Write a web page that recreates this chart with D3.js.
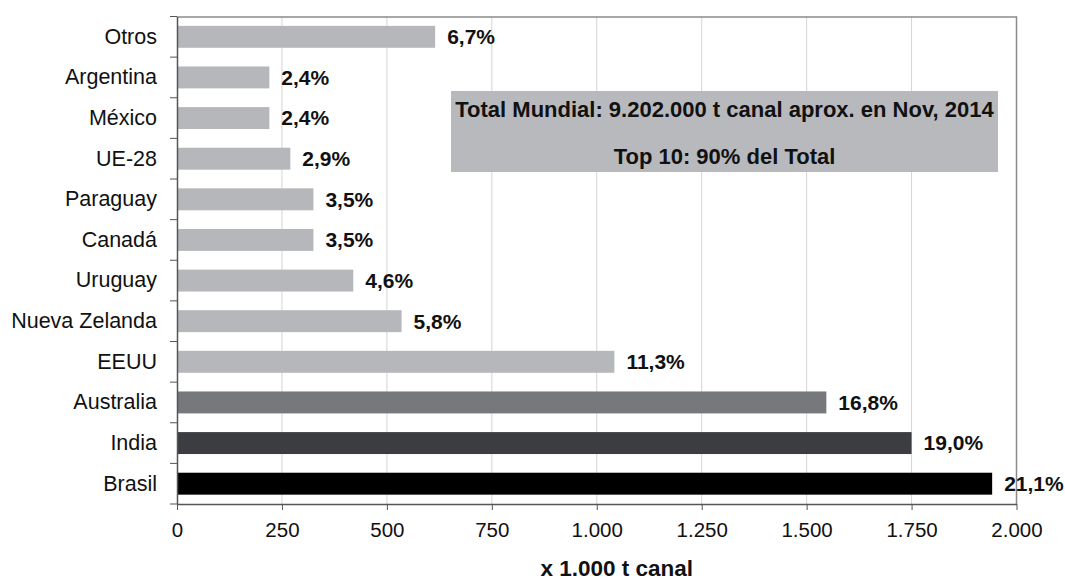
<!DOCTYPE html>
<head>
  <meta charset="utf-8">
  <style>
    body { margin: 0; background: #fff; }
    text { font-family: "Liberation Sans", Arial, sans-serif; fill: #111; }
    .bar { fill: #b6b7ba; }
    .pct { font-weight: bold; font-size: 21px; }
    .grid line { stroke: #d4d4d4; }
  </style>
  <script src="https://d3js.org/d3.v7.min.js"></script>
</head>

<body>
  <div id="content"></div>
  <script>
  // data (x 1.000 t canal, share of world total)
  var categories = ["Otros", "Argentina", "México", "UE-28", "Paraguay", "Canadá",
                    "Uruguay", "Nueva Zelanda", "EEUU", "Australia", "India", "Brasil"];
  var values = [615, 220, 220, 270, 325, 325, 420, 535, 1042, 1547, 1750, 1942];
  var shares = [6.7, 2.4, 2.4, 2.9, 3.5, 3.5, 4.6, 5.8, 11.3, 16.8, 19.0, 21.1];
  var xTicks = [0, 250, 500, 750, 1000, 1250, 1500, 1750, 2000];
  var barColors = {"Australia": "#77787c", "India": "#3c3d41", "Brasil": "#000000"};
  var noteLines = ["Total Mundial: 9.202.000 t canal aprox. en Nov, 2014", "Top 10: 90% del Total"];

  var margin = {top: 16.5, right: 48.5, bottom: 75, left: 177},
      width = 1065 - margin.left - margin.right,
      height = 579 - margin.top - margin.bottom;

  var data = categories.map(function(c, i) {
    return {cat: c, value: values[i], share: shares[i]};
  });

  var x = d3.scaleLinear().domain([0, 2000]).range([0, width]);
  var y = d3.scaleBand().domain(categories).range([0, height])
            .paddingInner(0.46).paddingOuter(0.23);

  var svg = d3.select("#content").append("svg")
      .attr("width", 1065)
      .attr("height", 579)
    .append("g")
      .attr("transform", "translate(" + margin.left + "," + margin.top + ")");

  // vertical grid
  svg.append("g")
      .attr("class", "grid")
    .selectAll("line")
    .data(xTicks.slice(1))
    .enter().append("line")
      .attr("x1", function(d) { return x(d); })
      .attr("x2", function(d) { return x(d); })
      .attr("y1", 0)
      .attr("y2", height);

  // frame top / right
  svg.append("path")
      .attr("d", "M0,0.5H" + width + "V" + height)
      .attr("fill", "none")
      .attr("stroke", "#8a8a8a")
      .attr("stroke-width", 1.5);

  // note box
  var box = svg.append("g");
  box.append("rect")
      .attr("x", 274).attr("y", 74.5)
      .attr("width", 547).attr("height", 81)
      .attr("fill", "#b8b9bc");
  box.selectAll("text")
    .data(noteLines)
    .enter().append("text")
      .attr("x", 274 + 547 / 2)
      .attr("y", function(d, i) { return 93 + i * 47; })
      .attr("dy", "0.35em")
      .attr("text-anchor", "middle")
      .style("font-weight", "bold")
      .style("font-size", "22px")
      .text(function(d) { return d; });

  // bars
  svg.selectAll(".bar")
      .data(data)
    .enter().append("rect")
      .attr("class", "bar")
      .attr("x", 0)
      .attr("y", function(d) { return y(d.cat); })
      .attr("width", function(d) { return x(d.value); })
      .attr("height", y.bandwidth())
      .style("fill", function(d) { return barColors[d.cat] || null; });

  // share labels
  svg.selectAll(".pct")
      .data(data)
    .enter().append("text")
      .attr("class", "pct")
      .attr("x", function(d) { return x(d.value) + 12; })
      .attr("y", function(d) { return y(d.cat) + y.bandwidth() / 2; })
      .attr("dy", "0.35em")
      .text(function(d) { return d3.format(".1f")(d.share).replace(".", ",") + "%"; });

  // y axis: labels at band centres, ticks at band edges
  var yAxis = svg.append("g")
      .call(d3.axisLeft(y).tickSize(0).tickPadding(20));
  yAxis.select(".domain").attr("stroke", "#555").attr("stroke-width", 1.5);
  yAxis.selectAll(".tick text").style("font-size", "21.5px").style("fill", "#111");
  yAxis.selectAll(".edge")
      .data(d3.range(categories.length + 1))
    .enter().append("line")
      .attr("class", "edge")
      .attr("x1", -7).attr("x2", 0)
      .attr("y1", function(i) { return i * y.step(); })
      .attr("y2", function(i) { return i * y.step(); })
      .attr("stroke", "#555");

  // x axis
  var fmt = d3.formatLocale({decimal: ",", thousands: ".", grouping: [3], currency: ["", ""]}).format(",d");
  var xAxis = svg.append("g")
      .attr("transform", "translate(0," + height + ")")
      .call(d3.axisBottom(x).tickValues(xTicks).tickSize(6).tickSizeOuter(0).tickPadding(12).tickFormat(fmt));
  xAxis.select(".domain").attr("stroke", "#555").attr("stroke-width", 1.5);
  xAxis.selectAll(".tick line").attr("stroke", "#555");
  xAxis.selectAll(".tick text").style("font-size", "20.5px").style("fill", "#111");

  svg.append("text")
      .attr("x", width / 2 + 20)
      .attr("y", height + 71.5)
      .attr("text-anchor", "middle")
      .style("font-weight", "bold")
      .style("font-size", "22.5px")
      .text("x 1.000 t canal");
  </script>
</body>
</html>
